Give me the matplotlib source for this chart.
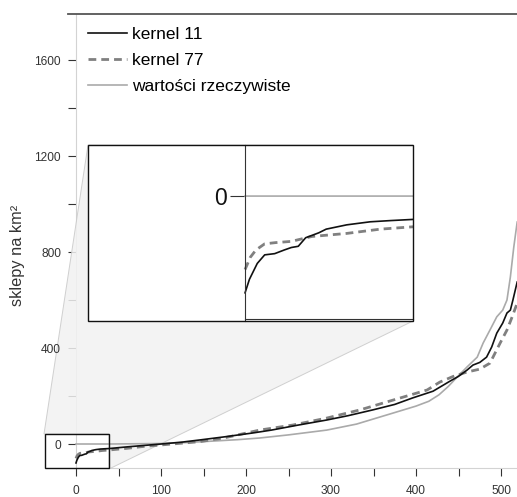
import matplotlib.pyplot as plt
import numpy as np
from matplotlib.patches import Polygon, Rectangle
from matplotlib.transforms import offset_copy

plt.rcParams['font.family'] = ['Liberation Sans', 'DejaVu Sans']

# kernel 11 (solid black)
k11_x = [0, 1, 2.8, 4.5, 6.8, 9, 10.6, 12.2, 13.9, 16.9, 18.6, 23.3, 28.7, 33.4, 38.8,
         60, 80, 100, 125, 146, 175, 208, 230, 260, 295, 320, 349, 375, 396, 420,
         440, 450, 460, 467, 475, 483, 489, 495, 502, 507, 511, 514, 519]
k11_y = [-79, -68, -55, -48, -47, -44, -42, -41, -34, -30, -27, -23.5, -21, -20, -19,
         -12, -6, 0, 8, 17, 30, 46, 58, 78, 100, 118, 142, 165, 192, 220,
         262, 282, 308, 329, 340, 362, 404, 462, 504, 546, 558, 600, 675]

# kernel 77 (dashed grey)
k77_x = [0, 1.2, 2.5, 4.5, 7, 10.6, 15.3, 23.3, 31, 38.8,
         60, 80, 100, 146, 175, 216, 255, 295, 334, 373, 413, 428, 444, 460,
         475, 487, 493, 499, 507, 513, 519]
k77_y = [-60, -50, -44, -39, -38, -37, -33, -30.5, -27, -25,
         -18, -10, -4, 10, 26, 58, 79, 108, 142, 183, 225, 258, 282, 300,
         312, 337, 379, 421, 475, 529, 587]

# wartosci rzeczywiste (light grey)
real_x = [0, 40, 100, 130, 160, 190, 216, 250, 295, 330, 373, 400, 415, 427, 438, 450,
          460, 472, 479, 487, 495, 502, 507, 511, 515, 519]
real_y = [0, 0, 2, 6, 12, 18, 25, 38, 58, 83, 129, 158, 178, 205, 240, 285,
          321, 362, 421, 475, 530, 558, 600, 696, 820, 925]

y_major = [0, 400, 800, 1200, 1600]
y_minor = [200, 600, 1000, 1400]
x_major = [0, 100, 200, 300, 400, 500]
x_minor = [50, 150, 250, 350, 450]

W, H = 517, 497
fig = plt.figure(figsize=(W / 100, H / 100), dpi=100)

def fx(px):
    return px / W

def fy(py):
    return 1 - py / H

ax = fig.add_axes([fx(42), fy(468), fx(517 - 42), (468 - 14) / H])
ax.set_xlim(-40, 518.8)
ax.set_ylim(-100, 1792)

ax.plot(real_x, real_y, color='#aaaaaa', lw=1.2, zorder=4, label='wartości rzeczywiste')
ax.plot(k77_x, k77_y, color='#808080', lw=2, ls=(0, (2.8, 1.8)), zorder=4, label='kernel 77')
ax.plot(k11_x, k11_y, color='#111111', lw=1.2, zorder=4.5, label='kernel 11')

ax.spines['right'].set_visible(False)
ax.spines['left'].set_position(('data', 0))
ax.spines['left'].set_color('#d3d3d3')
ax.spines['left'].set_bounds(-100, 1792)
ax.spines['bottom'].set_color('#d3d3d3')
ax.spines['bottom'].set_bounds(0, 518.8)
ax.spines['top'].set_color('#555555')
ax.spines['top'].set_linewidth(1.3)
ax.spines['top'].set_bounds(-9.4, 518.8)

ax.set_yticks(y_major)
ax.set_yticks(y_minor, minor=True)
ax.set_xticks(x_major)
ax.set_xticks(x_minor, minor=True)
ax.tick_params(which='both', length=5.8, width=0.8, color='#333333',
               labelsize=8.6, labelcolor='#333333')
ax.tick_params(axis='y', labelleft=False)
ax.tick_params(axis='x', pad=6.5)
# y tick labels as texts so they sit above the shaded connector
ylab_tr = offset_copy(ax.transData, fig=fig, x=-15, y=0, units='dots')
for v in y_major:
    ax.text(0, v, str(v), transform=ylab_tr, ha='right', va='center_baseline',
            fontsize=8.6, color='#333333', zorder=6, clip_on=False)
ax.set_ylabel('sklepy na km²', fontsize=11.8, color='#333333')
ax.yaxis.set_label_coords(-0.0358, (468 - 255) / 454)

handles, labels = ax.get_legend_handles_labels()
order = [2, 1, 0]
ax.legend([handles[i] for i in order], [labels[i] for i in order],
          loc='upper left', bbox_to_anchor=(fx(88), fy(27)), bbox_transform=fig.transFigure,
          frameon=False, fontsize=12.5, handlelength=2.25, handletextpad=0.3,
          labelspacing=0.62, borderpad=0, borderaxespad=0)

# inset limits
in_x0, in_x1 = -36, 38.5
in_y0, in_y1 = -102, 41.7

# zoom rectangle on main axes
ax.add_patch(Rectangle((in_x0, -100), in_x1 - in_x0, in_y1 + 100, fill=False,
                       ec='#111111', lw=1, zorder=5, clip_on=False))

# shaded connector between zoom rectangle and inset
poly = [(fx(44), fy(434)), (fx(88), fy(145)), (fx(413), fy(145)), (fx(413), fy(321)),
        (fx(109), fy(469)), (fx(109), fy(434))]
ax.add_patch(Polygon(poly, closed=True, transform=fig.transFigure, fc='#f2f2f2',
                     ec='#c8c8c8', lw=0.7, alpha=0.85, zorder=3, clip_on=False))

axin = fig.add_axes([fx(88), fy(321), fx(325), 176 / H])
axin.set_zorder(5)
axin.set_facecolor('white')
axin.plot(real_x, real_y, color='#aaaaaa', lw=1.2)
axin.plot(k77_x, k77_y, color='#808080', lw=2, ls=(0, (2.8, 1.8)))
axin.plot(k11_x, k11_y, color='#111111', lw=1.2)
axin.set_xlim(in_x0, in_x1)
axin.set_ylim(in_y0, in_y1)
axin.spines['right'].set_visible(False)
axin.spines['top'].set_visible(False)
axin.spines['left'].set_position(('data', 0))
axin.spines['left'].set_color('#333333')
axin.spines['bottom'].set_position(('data', -100))
axin.spines['bottom'].set_bounds(0, in_x1)
axin.spines['bottom'].set_color('#333333')
axin.set_xticks([])
axin.set_yticks([0])
axin.tick_params(axis='y', length=11, width=0.8, color='#333333', labelsize=16.5,
                 labelcolor='#111111', pad=2)
axin.add_patch(Rectangle((0, 0), 1, 1, transform=axin.transAxes, fill=False,
                         ec='#111111', lw=1, clip_on=False, zorder=6))

fig.savefig('out.png', dpi=100)
